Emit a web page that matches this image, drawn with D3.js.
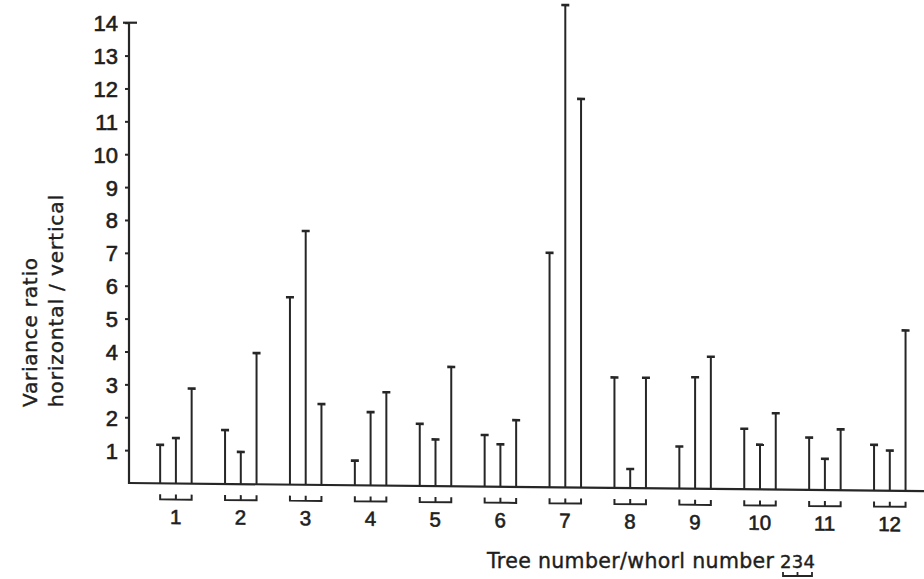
<!DOCTYPE html>
<html>
<head>
<meta charset="utf-8">
<script src="https://cdn.jsdelivr.net/npm/d3@7"></script>
<style>
  body { margin: 0; background: #fff; }
  svg { display: block; }
  .num { font-family: "Liberation Sans", Arial, sans-serif; fill: #1e1e1e; stroke: #1e1e1e; stroke-width: 0.6px; }
  .title { font-family: "DejaVu Sans", sans-serif; fill: #1e1e1e; stroke: #1e1e1e; stroke-width: 0.4px; }
</style>
</head>
<body>
<div id="chart"></div>
<script>
// tree number, whorl numbers and the variance ratio for each whorl
var trees = [1, 2, 3, 4, 5, 6, 7, 8, 9, 10, 11, 12];
var whorls = [2, 3, 4];
var whorl2 = [1.17, 1.64, 5.70, 0.75, 1.89, 1.57, 7.13, 3.36, 1.28, 1.84, 1.59, 1.39];
var whorl3 = [1.38, 0.98, 7.72, 2.23, 1.42, 1.29, 14.67, 0.58, 3.39, 1.36, 0.95, 1.22];
var whorl4 = [2.89, 3.99, 2.46, 2.84, 3.63, 2.03, 11.82, 3.36, 4.02, 2.32, 1.85, 4.88];
var yTicks = [1, 2, 3, 4, 5, 6, 7, 8, 9, 10, 11, 12, 13, 14];

var width = 924, height = 579;
var ink = "#262626";

var svg = d3.select("#chart").append("svg")
    .attr("width", width)
    .attr("height", height);

var y = d3.scaleLinear().domain([0, 14]).range([483, 22.7]);
var x = d3.scaleBand().domain(trees).range([143.2, 922]).paddingInner(0);
var xw = d3.scalePoint().domain(whorls).range([-15.5, 16]);
var axisX = 129;

function cx(t) { return x(t) + x.bandwidth() / 2; }

// the scanned figure sits a little askew: baseline drops to the right
var plot = svg.append("g")
    .attr("transform", "translate(" + axisX + ",0) skewY(0.58) translate(" + (-axisX) + ",0)");

// y axis
var yAxis = svg.append("g")
    .attr("transform", "translate(" + axisX + ",0)")
    .call(d3.axisLeft(y).tickValues(yTicks).tickSize(4).tickSizeOuter(0).tickFormat(d3.format("d")));
yAxis.attr("font-family", null).attr("font-size", null);
yAxis.select(".domain").remove();
yAxis.selectAll(".tick line").attr("stroke", ink).attr("stroke-width", 2);
yAxis.selectAll(".tick text")
    .attr("class", "num")
    .attr("x", -11)
    .attr("dy", "0.36em")
    .style("font-size", "22px");
yAxis.append("line")
    .attr("x1", 0).attr("x2", 0)
    .attr("y1", y(14)).attr("y2", y(0) + 1)
    .attr("stroke", ink).attr("stroke-width", 2.2);
yAxis.append("line")
    .attr("x1", -6).attr("x2", 8)
    .attr("y1", y(14)).attr("y2", y(14))
    .attr("stroke", ink).attr("stroke-width", 2.2);

// baseline
plot.append("line")
    .attr("x1", axisX).attr("x2", width)
    .attr("y1", y(0)).attr("y2", y(0))
    .attr("stroke", ink).attr("stroke-width", 2.2);

var rows = [];
trees.forEach(function (t, i) {
    rows.push({ tree: t, whorl: 2, value: whorl2[i] });
    rows.push({ tree: t, whorl: 3, value: whorl3[i] });
    rows.push({ tree: t, whorl: 4, value: whorl4[i] });
});

var bars = plot.selectAll(".bar")
    .data(rows)
    .enter().append("g")
    .attr("class", "bar");

bars.append("line")
    .attr("x1", function (d) { return cx(d.tree) + xw(d.whorl); })
    .attr("x2", function (d) { return cx(d.tree) + xw(d.whorl); })
    .attr("y1", y(0))
    .attr("y2", function (d) { return y(d.value); })
    .attr("stroke", ink).attr("stroke-width", 2);

bars.append("line")
    .attr("x1", function (d) { return cx(d.tree) + xw(d.whorl) - 4; })
    .attr("x2", function (d) { return cx(d.tree) + xw(d.whorl) + 4; })
    .attr("y1", function (d) { return y(d.value); })
    .attr("y2", function (d) { return y(d.value); })
    .attr("stroke", ink).attr("stroke-width", 2.6);

// whorl brackets under each tree
plot.selectAll(".bracket")
    .data(trees)
    .enter().append("path")
    .attr("class", "bracket")
    .attr("fill", "none")
    .attr("stroke", ink).attr("stroke-width", 2)
    .attr("d", function (t) {
        var a = cx(t) + xw(2), m = cx(t) + xw(3), b = cx(t) + xw(4);
        var by = 499, ty = 494;
        return "M" + a + "," + ty + "V" + by + "H" + b + "V" + ty + "M" + m + "," + by + "V" + ty;
    });

plot.selectAll(".treeLabel")
    .data(trees)
    .enter().append("text")
    .attr("class", "num")
    .attr("x", function (t) { return cx(t); })
    .attr("y", 523.5)
    .attr("text-anchor", "middle")
    .style("font-size", "20.5px")
    .text(function (t) { return t; });

// axis titles
var yt = svg.append("g").attr("transform", "translate(37,407) rotate(-90)");
yt.append("text")
    .attr("class", "title")
    .style("font-size", "20px")
    .attr("textLength", 149)
    .attr("lengthAdjust", "spacing")
    .text("Variance ratio");
yt.append("text")
    .attr("class", "title")
    .attr("y", 26)
    .style("font-size", "20px")
    .attr("textLength", 212)
    .attr("lengthAdjust", "spacing")
    .text("horizontal / vertical");

svg.append("text")
    .attr("class", "title")
    .attr("x", 487)
    .attr("y", 568)
    .style("font-size", "20.5px")
    .attr("textLength", 287)
    .attr("lengthAdjust", "spacing")
    .text("Tree number/whorl number");

svg.append("text")
    .attr("class", "title")
    .attr("x", 780)
    .attr("y", 568)
    .style("font-size", "18px")
    .attr("textLength", 35)
    .attr("lengthAdjust", "spacing")
    .text("234");

svg.append("path")
    .attr("fill", "none")
    .attr("stroke", ink).attr("stroke-width", 1.8)
    .attr("d", "M783,572V576H812V572M797.5,576V572");
</script>
</body>
</html>
